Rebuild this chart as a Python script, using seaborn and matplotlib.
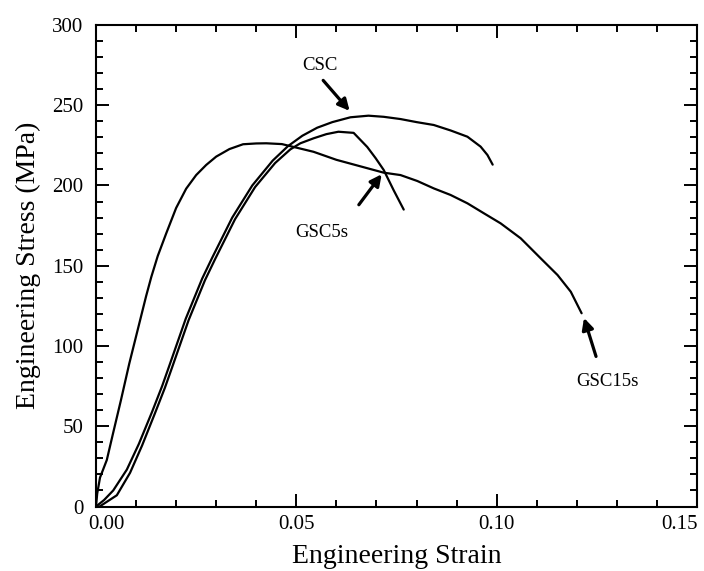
import numpy as np
import pandas as pd
import matplotlib
matplotlib.use("Agg")
import matplotlib.pyplot as plt
import seaborn as sns
from matplotlib.ticker import MultipleLocator, FixedLocator
from matplotlib.transforms import ScaledTranslation

# ---- data ----
gsc15s_strain = [0.0, 0.0003, 0.001, 0.0027, 0.0042, 0.0062, 0.0083, 0.0104, 0.0125, 0.0138,
                 0.0154, 0.0175, 0.02, 0.0225, 0.025, 0.0275, 0.03, 0.0333, 0.0367, 0.040,
                 0.0425, 0.0464, 0.051, 0.0543, 0.06, 0.0718, 0.076, 0.0802, 0.0843, 0.0885,
                 0.0927, 0.0968, 0.101, 0.106, 0.111, 0.1152, 0.1185, 0.1212]
gsc15s_stress = [0, 8, 18, 29, 45, 66, 89, 110, 131, 143,
                 156, 170, 186, 198, 206.5, 212.8, 218, 222.7, 225.7, 226.2,
                 226.3, 225.8, 223, 221, 216, 208, 206.5, 202.8, 198.2, 194.1,
                 188.9, 182.7, 176.4, 167.1, 154.6, 144.2, 133.8, 120.4]

csc_strain = [0.0, 0.002, 0.0043, 0.0077, 0.0107, 0.014, 0.0165, 0.0182, 0.0224, 0.0265,
              0.029, 0.034, 0.039, 0.0441, 0.0479, 0.0515, 0.0552, 0.059, 0.0635, 0.068,
              0.0718, 0.076, 0.080, 0.0843, 0.0885, 0.0927, 0.096, 0.0977, 0.099]
csc_stress = [0, 4, 10, 23, 39, 59, 75, 87, 117, 142,
              155, 180, 200, 215.5, 224.5, 231, 236, 239.5, 242.5, 243.5,
              242.8, 241.4, 239.5, 237.7, 234.3, 230.4, 224.2, 219, 213]

gsc5s_strain = [0.0, 0.0009, 0.0052, 0.0085, 0.0115, 0.0147, 0.0172, 0.0189, 0.0231, 0.0272,
                0.0297, 0.0347, 0.0397, 0.0447, 0.0485, 0.051, 0.0543, 0.0575, 0.0605, 0.0643,
                0.0677, 0.0698, 0.0718, 0.0743, 0.0768]
gsc5s_stress = [0, 0, 7, 21, 38, 58, 74, 86, 116, 141,
                154, 179, 199, 214, 222.5, 226.3, 229.4, 232, 233.5, 232.8,
                224, 217, 209.7, 197, 185]

x_ticks = [0.00, 0.05, 0.10, 0.15]
x_ticklabels = ["0.00", "0.05", "0.10", "0.15"]
y_ticks = [0, 50, 100, 150, 200, 250, 300]

# annotation (label, text pos, arrow tail, arrow head)
annotations = [
    ("CSC", (0.056, 275), (0.0567, 265.5), (0.0633, 246.5)),
    ("GSC5s", (0.0563, 171), (0.0656, 188), (0.0713, 207)),
    ("GSC15s", (0.1277, 78), (0.1248, 93.5), (0.1218, 117.5)),
]

df = pd.concat([
    pd.DataFrame({"strain": gsc15s_strain, "stress": gsc15s_stress, "sample": "GSC15s"}),
    pd.DataFrame({"strain": csc_strain, "stress": csc_stress, "sample": "CSC"}),
    pd.DataFrame({"strain": gsc5s_strain, "stress": gsc5s_stress, "sample": "GSC5s"}),
], ignore_index=True)

sns.set_theme(style="ticks")
plt.rcParams["font.family"] = ["Liberation Serif", "DejaVu Serif"]

fig = plt.figure(figsize=(7.04, 5.71), dpi=100)
ax = fig.add_axes([96 / 704, 1 - 506.5 / 571, (697 - 96) / 704, (506.5 - 25) / 571])

sns.lineplot(data=df, x="strain", y="stress", hue="sample",
             palette={"GSC15s": "black", "CSC": "black", "GSC5s": "black"},
             sort=False, estimator=None, legend=False, linewidth=1.6, ax=ax)

ax.set_xlim(0, 0.15)
ax.set_ylim(0, 300)
ax.xaxis.set_major_locator(FixedLocator(x_ticks))
ax.set_xticklabels(x_ticklabels)
ax.xaxis.set_minor_locator(MultipleLocator(0.01))
ax.yaxis.set_major_locator(FixedLocator(y_ticks))
ax.yaxis.set_minor_locator(MultipleLocator(10))

ax.tick_params(which="both", direction="in", top=True, right=True, width=1.4, color="black")
ax.tick_params(which="major", length=9.5)
ax.tick_params(which="minor", length=5)
ax.tick_params(axis="x", which="major", labelsize=15, pad=6, colors="black")
ax.tick_params(axis="y", which="major", labelsize=15, pad=9, colors="black")
for s in ax.spines.values():
    s.set_linewidth(1.5)
    s.set_color("black")

ax.set_xlabel("Engineering Strain", fontsize=20, labelpad=7.5, color="black")
ax.set_ylabel("Engineering Stress (MPa)", fontsize=20, labelpad=8, color="black")

for label, tpos, tail, head in annotations:
    ax.text(tpos[0], tpos[1], label, fontsize=13.5, ha="center", va="center", color="black")
    ax.annotate("", xy=head, xytext=tail,
                arrowprops=dict(arrowstyle="-|>", color="black", lw=2.3,
                                mutation_scale=17, shrinkA=0, shrinkB=0))

# first and last x tick labels are nudged inwards in the reference
fig.canvas.draw()
xl = ax.get_xticklabels()
xl[0].set_transform(xl[0].get_transform() + ScaledTranslation(10 / 100, 0, fig.dpi_scale_trans))
xl[-1].set_transform(xl[-1].get_transform() + ScaledTranslation(-17 / 100, 0, fig.dpi_scale_trans))

fig.savefig("out.png", dpi=100)
